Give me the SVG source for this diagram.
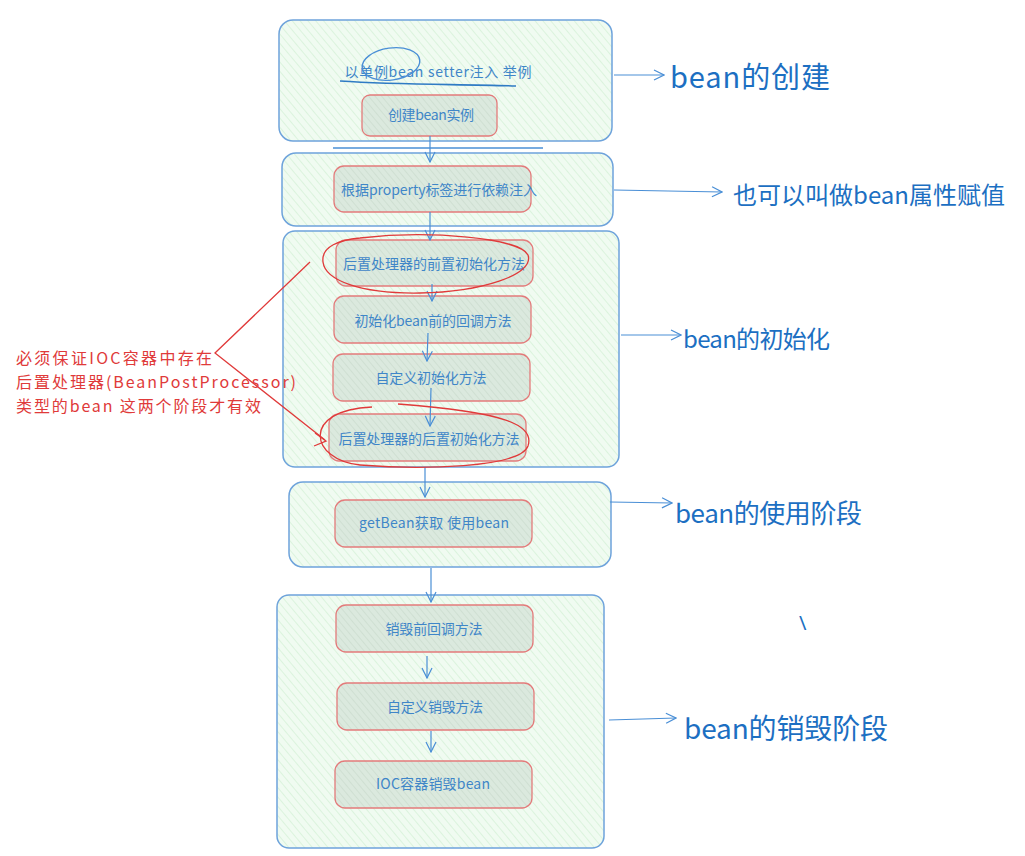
<svg xmlns="http://www.w3.org/2000/svg" width="1025" height="856" viewBox="0 0 1025 856">
<defs>
<pattern id="hg" width="6" height="6" patternUnits="userSpaceOnUse" patternTransform="rotate(-40)">
<rect width="6" height="6" fill="#f0fbf1"/>
<line x1="0" y1="0" x2="0" y2="6" stroke="#c6ecc9" stroke-width="1"/>
</pattern>
<pattern id="hn" width="5" height="5" patternUnits="userSpaceOnUse" patternTransform="rotate(-40)">
<rect width="5" height="5" fill="#dbe9de"/>
<line x1="0" y1="0" x2="0" y2="5" stroke="#c3d6c7" stroke-width="1"/>
</pattern>
<marker id="ah" viewBox="0 0 12 12" refX="11" refY="6" markerWidth="12" markerHeight="12" markerUnits="userSpaceOnUse" orient="auto">
<path d="M1,1 L11,6 L1,11" fill="none" stroke="#4a8fd6" stroke-width="1.2"/>
</marker>
</defs>
<style>
.grp{fill:url(#hg);stroke:#6ea3db;stroke-width:1.5}
.nd{fill:url(#hn);stroke:#e37b7b;stroke-width:1.3}
.t{font-family:"Noto Sans CJK SC","Noto Sans",sans-serif;font-size:14px;fill:#3f86c8;text-anchor:middle;dominant-baseline:central}
.lb{font-family:"Noto Sans CJK SC","Noto Sans",sans-serif;fill:#1c6fc2;dominant-baseline:central}
.c{fill:none;stroke:#4a8fd6;stroke-width:1.2;marker-end:url(#ah)}
.r{fill:none;stroke:#e03a3a;stroke-width:1.3}
.rt{font-family:"Noto Sans CJK SC","Noto Sans",sans-serif;font-size:16px;fill:#e03a3a;dominant-baseline:central}
</style>
<rect width="1025" height="856" fill="#ffffff"/>

<g id="stage-create">
<rect class="grp" x="279" y="20" width="333" height="121" rx="14"/>
<text class="t" x="438" y="71" textLength="187" lengthAdjust="spacing">以单例bean setter注入  举例</text>
<path d="M340,81 C400,85 460,84 516,86" fill="none" stroke="#2f7bc4" stroke-width="1.6"/>
<ellipse cx="391" cy="64" rx="29" ry="16" fill="none" stroke="#4a8fd6" stroke-width="1.4" transform="rotate(-8 391 64)"/>
</g>
<g id="n-create"><rect class="nd" x="362" y="95" width="135" height="41" rx="8"/><text class="t" x="431" y="114" textLength="86" lengthAdjust="spacing">创建bean实例</text></g>

<g id="stage-inject">
<rect class="grp" x="282" y="153" width="331" height="73" rx="14"/>
</g>
<g id="n-inject"><rect class="nd" x="334" y="166" width="197" height="46" rx="10"/><text class="t" x="439" y="189" textLength="196" lengthAdjust="spacing">根据property标签进行依赖注入</text></g>

<g id="stage-init">
<rect class="grp" x="283" y="231" width="336" height="236" rx="12"/>
</g>
<g id="n-pre"><rect class="nd" x="336" y="240" width="197" height="46" rx="10"/><text class="t" x="434" y="263" textLength="182" lengthAdjust="spacing">后置处理器的前置初始化方法</text></g>
<g id="n-before"><rect class="nd" x="334" y="296" width="197" height="47" rx="10"/><text class="t" x="433" y="320" textLength="157" lengthAdjust="spacing">初始化bean前的回调方法</text></g>
<g id="n-custom-init"><rect class="nd" x="333" y="354" width="197" height="47" rx="10"/><text class="t" x="431" y="377" textLength="111" lengthAdjust="spacing">自定义初始化方法</text></g>
<g id="n-post"><rect class="nd" x="329" y="414" width="197" height="47" rx="10"/><text class="t" x="429" y="438" textLength="181" lengthAdjust="spacing">后置处理器的后置初始化方法</text></g>

<g id="stage-use">
<rect class="grp" x="289" y="482" width="322" height="85" rx="14"/>
</g>
<g id="n-use"><rect class="nd" x="335" y="500" width="197" height="47" rx="10"/><text class="t" x="434" y="522" textLength="150" lengthAdjust="spacing">getBean获取  使用bean</text></g>

<g id="stage-destroy">
<rect class="grp" x="277" y="595" width="327" height="253" rx="12"/>
</g>
<g id="n-predestroy"><rect class="nd" x="336" y="605" width="197" height="47" rx="10"/><text class="t" x="434" y="628" textLength="97" lengthAdjust="spacing">销毁前回调方法</text></g>
<g id="n-custom-destroy"><rect class="nd" x="337" y="683" width="197" height="47" rx="10"/><text class="t" x="435" y="706" textLength="96" lengthAdjust="spacing">自定义销毁方法</text></g>
<g id="n-ioc-destroy"><rect class="nd" x="335" y="761" width="197" height="47" rx="10"/><text class="t" x="433" y="783" textLength="114" lengthAdjust="spacing">IOC容器销毁bean</text></g>

<g id="connectors">
<path class="c" d="M430,136 L430,162"/>
<path d="M333,148 L543,148" fill="none" stroke="#4a8fd6" stroke-width="1.4"/>
<path class="c" d="M430,212 L430,240"/>
<path class="c" d="M432,284 L432,301"/>
<path class="c" d="M428,333 L427,361"/>
<path class="c" d="M431,388 L430,426"/>
<path class="c" d="M425,467 L425,497"/>
<path class="c" d="M431,568 L431,602"/>
<path class="c" d="M427,656 L427,678"/>
<path class="c" d="M431,731 L431,752"/>
<path class="c" d="M614,75 L664,75"/>
<path class="c" d="M614,190 L722,192"/>
<path class="c" d="M621,335 L681,335"/>
<path class="c" d="M610,502 L672,503"/>
<path class="c" d="M609,720 L676,718"/>
</g>

<g id="labels">
<text class="lb" x="670" y="75" font-size="29" textLength="160" lengthAdjust="spacing">bean的创建</text>
<text class="lb" x="733" y="193" font-size="24" textLength="272" lengthAdjust="spacing">也可以叫做bean属性赋值</text>
<text class="lb" x="683" y="337" font-size="24" textLength="147" lengthAdjust="spacing">bean的初始化</text>
<text class="lb" x="675" y="511" font-size="26" textLength="187" lengthAdjust="spacing">bean的使用阶段</text>
<text class="lb" x="684" y="727" font-size="28" textLength="204" lengthAdjust="spacing">bean的销毁阶段</text>
<text x="799" y="630" font-family="Noto Sans, sans-serif" font-size="20" fill="#1c6fc2">\</text>
</g>

<g id="annotation">
<path class="r" d="M360,238 C430,230 520,238 528,255 C535,275 480,292 420,293 C360,294 325,280 323,262 C321,246 340,240 360,238"/>
<path class="r" d="M372,407 C300,410 310,460 360,465 C420,470 520,468 528,446 C535,425 505,412 398,404"/>
<path class="r" d="M310,262 L215,353 L325,440"/>
<path class="r" d="M315,433 L326,441 L314,446"/>
<text class="rt" x="16" y="357" textLength="196" lengthAdjust="spacing">必须保证IOC容器中存在</text>
<text class="rt" x="16" y="381" textLength="280" lengthAdjust="spacing">后置处理器(BeanPostProcessor)</text>
<text class="rt" x="16" y="405" textLength="245" lengthAdjust="spacing">类型的bean 这两个阶段才有效</text>
</g>
</svg>
